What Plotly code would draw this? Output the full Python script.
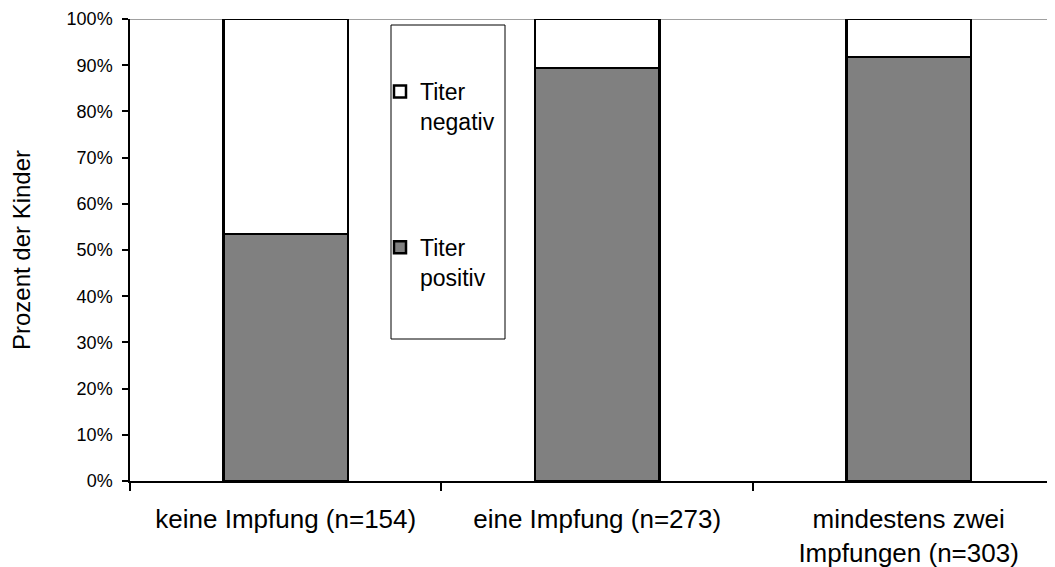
import plotly.graph_objects as go

categories = ["keine Impfung (n=154)", "eine Impfung (n=273)", "mindestens zwei<br>Impfungen (n=303)"]
titer_positiv = [53.5, 89.4, 91.8]
titer_negativ = [100 - v for v in titer_positiv]
y_ticks = [0, 10, 20, 30, 40, 50, 60, 70, 80, 90, 100]

FONT = "Liberation Sans, Arial, sans-serif"

# page body has an 8px margin; plot area in screen px: x 130..1055, y 19..481
fig = go.Figure()
fig.add_trace(go.Bar(
    x=categories, y=titer_positiv, name="Titer<br>positiv", legendgroup="pos", legendrank=2,
    marker=dict(color="#808080", line=dict(color="black", width=2.5)), width=0.4,
))
fig.add_trace(go.Bar(
    x=categories, y=titer_negativ, name="Titer<br>negativ", legendgroup="neg", legendrank=1,
    marker=dict(color="white", line=dict(color="black", width=2.5)), width=0.4,
))

PH = 462  # plot height in px
fig.update_layout(
    width=1047, height=559,
    margin=dict(l=122, r=0, t=11, b=559 - 11 - PH, pad=0),
    barmode="stack",
    plot_bgcolor="white", paper_bgcolor="white",
    font=dict(family=FONT, color="black"),
    showlegend=True,
    legend=dict(
        x=(380 - 130) / 925, xanchor="left",
        y=(481 - 70) / PH, yanchor="top",
        traceorder="grouped", tracegroupgap=93,
        font=dict(family=FONT, size=23, color="black"),
        bgcolor="rgba(0,0,0,0)", borderwidth=0, valign="top",
        itemwidth=30,
    ),
    shapes=[
        dict(type="line", xref="paper", yref="y", x0=0, x1=1, y0=100, y1=100,
             line=dict(color="#808080", width=1.5), layer="below"),
        dict(type="rect", xref="paper", yref="paper",
             x0=(391 - 130) / 925, x1=(505 - 130) / 925,
             y0=(481 - 339) / PH, y1=(481 - 25) / PH,
             line=dict(color="black", width=1), fillcolor="white", layer="above"),
    ],
)
fig.update_xaxes(
    type="category", range=[-0.5, 2.47],
    showline=True, linecolor="black", linewidth=1.5,
    ticks="outside", tickson="boundaries", ticklen=8, tickcolor="black", tickwidth=1.5,
    tickfont=dict(family=FONT, size=26, color="black"),
    ticklabelstandoff=14, showgrid=False, zeroline=False,
)
fig.update_yaxes(
    range=[0, 100], tickvals=y_ticks, ticktext=[f"{v}%" for v in y_ticks],
    showline=True, linecolor="black", linewidth=1.5,
    ticks="outside", ticklen=6, tickcolor="black", tickwidth=1.5,
    tickfont=dict(family=FONT, size=18, color="black"), ticklabelstandoff=6,
    showgrid=False, zeroline=False,
    title=dict(text="Prozent der Kinder", font=dict(family=FONT, size=24, color="black"), standoff=30),
)

fig.write_html("out.html")
